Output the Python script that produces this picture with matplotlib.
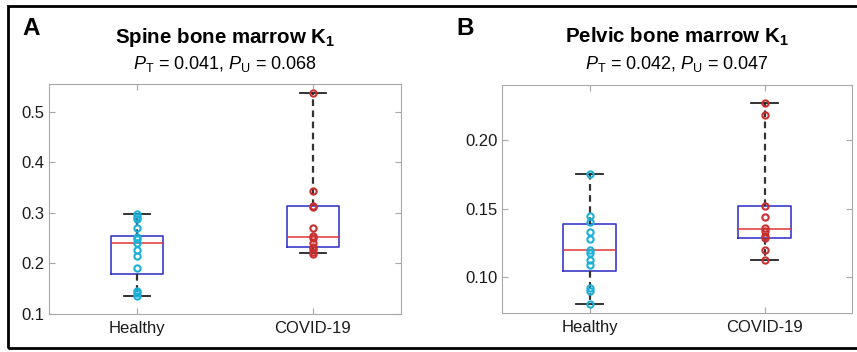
import matplotlib
matplotlib.use("Agg")
import matplotlib.pyplot as plt
from matplotlib.patches import Rectangle
from matplotlib.ticker import FormatStrFormatter

plt.rcParams["font.family"] = ["Liberation Sans", "DejaVu Sans"]
plt.rcParams["mathtext.fontset"] = "custom"
plt.rcParams["mathtext.rm"] = "Liberation Sans"
plt.rcParams["mathtext.it"] = "Liberation Sans:italic"
plt.rcParams["mathtext.bf"] = "Liberation Sans:bold"

groups = ["Healthy", "COVID-19"]

# spine bone marrow K1
spine_healthy = [0.298, 0.291, 0.287, 0.270, 0.252, 0.248, 0.240, 0.227, 0.214, 0.190, 0.146, 0.141, 0.136]
spine_covid = [0.537, 0.343, 0.313, 0.311, 0.271, 0.254, 0.250, 0.240, 0.233, 0.228, 0.222, 0.219]
spine_med = [0.240, 0.252]
spine_q1 = [0.179, 0.232]
spine_q3 = [0.255, 0.313]
spine_lo = [0.136, 0.220]
spine_hi = [0.298, 0.537]

# pelvic bone marrow K1
pelvic_healthy = [0.175, 0.145, 0.140, 0.133, 0.128, 0.120, 0.118, 0.113, 0.109, 0.092, 0.090, 0.081]
pelvic_covid = [0.227, 0.218, 0.152, 0.144, 0.136, 0.134, 0.130, 0.129, 0.120, 0.113]
pelvic_med = [0.120, 0.135]
pelvic_q1 = [0.105, 0.129]
pelvic_q3 = [0.139, 0.152]
pelvic_lo = [0.081, 0.113]
pelvic_hi = [0.175, 0.227]

spine_ticks = [0.1, 0.2, 0.3, 0.4, 0.5]
pelvic_ticks = [0.10, 0.15, 0.20]

BOX_BLUE = "#3a3ac8"
MED_RED = "#e03535"
CYAN = "#1cb0d8"
RED = "#c83030"
SPINE_GRAY = "#a8a8a8"


def draw_panel(ax, pts, med, q1, q3, lo, hi, ylim, ticks, fmt):
    stats = []
    for i in range(2):
        stats.append(dict(med=med[i], q1=q1[i], q3=q3[i], whislo=lo[i], whishi=hi[i], fliers=[]))
    ax.bxp(stats, positions=[1, 2], widths=0.3, capwidths=0.15, showfliers=False,
           boxprops=dict(color=BOX_BLUE, linewidth=1.2),
           medianprops=dict(color=MED_RED, linewidth=1.1),
           whiskerprops=dict(color="#333333", linewidth=1.6, linestyle=(0, (3, 2))),
           capprops=dict(color="#222222", linewidth=1.3))
    for i, (vals, col) in enumerate(zip(pts, [CYAN, RED])):
        ax.plot([i + 1] * len(vals), vals, "o", mfc="none", mec=col, ms=4.5, mew=1.5, zorder=3)
    ax.set_xlim(0.5, 2.5)
    ax.set_ylim(*ylim)
    ax.set_xticks([1, 2])
    ax.set_xticklabels(groups)
    ax.set_yticks(ticks)
    ax.yaxis.set_major_formatter(FormatStrFormatter(fmt))
    ax.tick_params(direction="in", length=4, width=0.8, color=SPINE_GRAY,
                   labelsize=12, labelcolor="#1a1a1a", top=True, right=True)
    ax.tick_params(axis="x", pad=5)
    ax.tick_params(axis="y", pad=3)
    for s in ax.spines.values():
        s.set_color(SPINE_GRAY)
        s.set_linewidth(0.8)


fig = plt.figure(figsize=(8.57, 3.52), dpi=100)
ax1 = fig.add_axes([0.0572, 0.108, 0.4107, 0.6534])
ax2 = fig.add_axes([0.5858, 0.110, 0.4084, 0.6477])

draw_panel(ax1, [spine_healthy, spine_covid], spine_med, spine_q1, spine_q3, spine_lo, spine_hi,
           (0.1, 0.555), spine_ticks, "%.1f")
draw_panel(ax2, [pelvic_healthy, pelvic_covid], pelvic_med, pelvic_q1, pelvic_q3, pelvic_lo, pelvic_hi,
           (0.074, 0.2396), pelvic_ticks, "%.2f")

# titles
fig.text(0.2626, 0.878, r"Spine bone marrow K$_\mathbf{1}$", ha="center", va="baseline",
         fontsize=14.8, fontweight="bold")
fig.text(0.2626, 0.804, r"$P_\mathrm{T}$ = 0.041, $P_\mathrm{U}$ = 0.068", ha="center", va="baseline",
         fontsize=13)
fig.text(0.790, 0.878, r"Pelvic bone marrow K$_\mathbf{1}$", ha="center", va="baseline",
         fontsize=14.8, fontweight="bold")
fig.text(0.790, 0.804, r"$P_\mathrm{T}$ = 0.042, $P_\mathrm{U}$ = 0.047", ha="center", va="baseline",
         fontsize=13)

# panel letters
fig.text(0.0257, 0.9006, "A", ha="left", va="baseline", fontsize=17.5, fontweight="bold")
fig.text(0.533, 0.9006, "B", ha="left", va="baseline", fontsize=17.5, fontweight="bold")

# outer frame (open on the right, cropped)
fig.add_artist(Rectangle((8 / 857, 4 / 352), 1.05, 342 / 352, transform=fig.transFigure,
                         fill=False, edgecolor="black", linewidth=2.0, clip_on=False))

fig.savefig("out.png", dpi=100)
